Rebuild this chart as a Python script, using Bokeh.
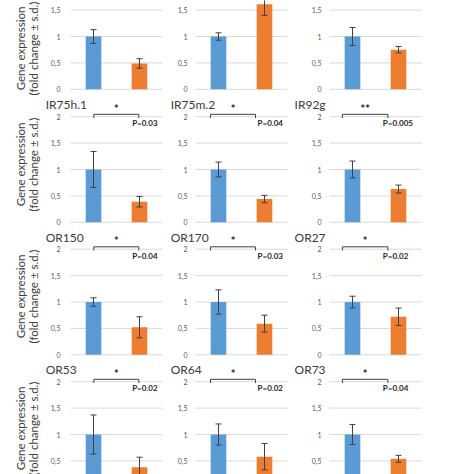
import math
from bokeh.plotting import figure
from bokeh.layouts import gridplot
from bokeh.models import ColumnDataSource, Range1d, Whisker, TeeHead
from bokeh.core.properties import value
from bokeh.embed import file_html
from bokeh.resources import INLINE

# ---------------- data ----------------
groups = ["control", "treated"]
tick_values = [0, 0.5, 1, 1.5, 2]
tick_labels = ["0", "0,5", "1", "1,5", "2"]

# panels in reading order (first row: titles cropped off in the source)
genes = ["", "", "", "IR75h.1", "IR75m.2", "IR92g",
         "OR150", "OR170", "OR27", "OR53", "OR64", "OR73"]
control_mean = [1.0, 1.0, 1.0, 1.0, 1.0, 1.0, 1.0, 1.0, 1.0, 1.0, 1.0, 1.0]
control_sd = [0.13, 0.07, 0.17, 0.34, 0.14, 0.16, 0.08, 0.23, 0.11, 0.37, 0.20, 0.19]
treated_mean = [0.49, 1.61, 0.75, 0.39, 0.44, 0.63, 0.52, 0.59, 0.72, 0.38, 0.58, 0.54]
treated_sd = [0.09, 0.21, 0.06, 0.10, 0.07, 0.075, 0.20, 0.16, 0.165, 0.19, 0.25, 0.065]
stars = ["", "", "", "*", "*", "**", "*", "*", "*", "*", "*", "*"]
p_values = ["", "", "", "P=0.03", "P=0.04", "P=0.005",
            "P=0.04", "P=0.03", "P=0.02", "P=0.02", "P=0.02", "P=0.04"]
y_label_lines = ["Gene expression", "(fold change \u00b1 s.d.)"]

# ---------------- styles / layout (pixels) ----------------
bar_colors = ["#5B9BD5", "#ED7D31"]
FONT = value("Lato")
PX_PER_CAT = 46.0          # width of one category slot
PX_PER_UNIT = 52.8         # height of one y unit
col_edges = [(0, 168), (168, 292), (292, 474)]   # figure extents
col_plot_left = [70, 195, 329]                   # pixel where the category axis starts
row_edges = [(0, 96), (96, 229), (229, 361), (361, 474)]
row_zero = [88.8, 221.8, 354.3, 486.8]           # pixel of y = 0
ylab_center_px = [48, 164, 296, 428]             # vertical centre of the axis title
tick_gap = [10, 8, 8]
# annotation offsets, in category units
title_x = [-0.54, -0.54, -0.76]
bracket_x = [(0.507, 1.485), (0.326, 1.304), (0.28, 1.27)]
p_x = [1.34, 1.35, 1.16]
ylab_px = [20, 33]

bar_x = [k + 0.5 for k in range(len(groups))]

rows = []
for r in range(4):
    top_px, bot_px = row_edges[r]
    y0 = (row_zero[r] - bot_px) / PX_PER_UNIT
    y1 = (row_zero[r] - top_px) / PX_PER_UNIT
    margin = 4 / PX_PER_UNIT
    vis = [k for k, t in enumerate(tick_values) if y0 + margin <= t <= y1 - margin]
    vis_ticks = [tick_values[k] for k in vis]
    vis_labels = [tick_labels[k] for k in vis]
    row_figs = []
    for c in range(3):
        i = r * 3 + c
        left_px, right_px = col_edges[c]
        x0 = (left_px - col_plot_left[c]) / PX_PER_CAT
        x1 = (right_px - col_plot_left[c]) / PX_PER_CAT
        p = figure(width=right_px - left_px, height=bot_px - top_px,
                   x_range=Range1d(x0, x1), y_range=Range1d(y0, y1),
                   x_axis_location=None, y_axis_location=None,
                   toolbar_location=None, output_backend="svg", title=None,
                   min_border=0)
        p.outline_line_color = None
        p.background_fill_color = "white"
        p.border_fill_color = "white"
        p.xgrid.grid_line_color = None
        p.ygrid.grid_line_color = None

        # horizontal gridlines and tick labels on the value axis
        n = len(vis_ticks)
        p.segment(x0=[0] * n, x1=[len(groups)] * n, y0=vis_ticks, y1=vis_ticks,
                  line_color="#d9d9d9", line_width=1)
        p.text(x=[-tick_gap[c] / PX_PER_CAT] * n, y=vis_ticks, text=vis_labels,
               text_font=FONT, text_font_size="7px", text_color="#595959",
               text_align="right", text_baseline="middle")

        means = [control_mean[i], treated_mean[i]]
        sds = [control_sd[i], treated_sd[i]]
        src = ColumnDataSource(dict(
            x=bar_x, mean=means,
            upper=[m + s for m, s in zip(means, sds)],
            lower=[m - s for m, s in zip(means, sds)],
            color=bar_colors))
        p.vbar(x="x", top="mean", bottom=0, width=0.34, source=src,
               fill_color="color", line_color=None)
        w = Whisker(source=src, base="x", upper="upper", lower="lower",
                    level="annotation", line_color="#404040", line_width=1,
                    upper_head=TeeHead(size=6, line_color="#404040", line_width=1),
                    lower_head=TeeHead(size=6, line_color="#404040", line_width=1))
        p.add_layout(w)

        if genes[i]:
            p.text(x=[title_x[c]], y=[2.23], text=[genes[i]], text_font=FONT,
                   text_font_size="12px", text_color="#3a3a3a",
                   text_align="left", text_baseline="middle")
            bx0, bx1 = bracket_x[c]
            p.line(x=[bx0, bx0, bx1, bx1], y=[1.975, 2.045, 2.045, 1.975],
                   line_color="#404040", line_width=1)
            p.text(x=[(bx0 + bx1) / 2], y=[2.16], text=[stars[i]], text_font=FONT,
                   text_font_size="11px", text_font_style="bold",
                   text_color="#262626", text_align="center", text_baseline="middle")
            p.text(x=[p_x[c]], y=[1.88], text=[p_values[i]], text_font=FONT,
                   text_font_size="8px", text_font_style="bold",
                   text_color="#262626", text_align="left", text_baseline="middle")
        if c == 0:
            yc = (row_zero[r] - ylab_center_px[r]) / PX_PER_UNIT
            for k, line in enumerate(y_label_lines):
                p.text(x=[(ylab_px[k] - col_plot_left[c]) / PX_PER_CAT], y=[yc],
                       text=[line], angle=math.pi / 2, text_font=FONT,
                       text_font_size="11.5px", text_color="#404040",
                       text_align="center", text_baseline="middle")
        row_figs.append(p)
    rows.append(row_figs)

grid = gridplot(rows, toolbar_location=None)
open("out.html", "w").write(file_html(grid, INLINE))
